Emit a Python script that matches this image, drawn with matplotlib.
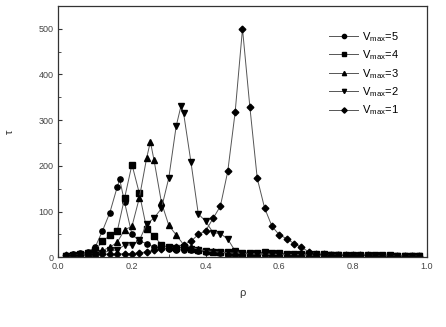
import matplotlib
matplotlib.use("Agg")
import matplotlib.pyplot as plt
from matplotlib.ticker import MultipleLocator

plt.rcParams['font.family'] = ['Liberation Sans', 'DejaVu Sans']
plt.rcParams['mathtext.default'] = 'regular'

# density grid (0.02 steps)
rho = [0.02, 0.04, 0.06, 0.08, 0.10, 0.12, 0.14, 0.16, 0.18, 0.20,
       0.22, 0.24, 0.26, 0.28, 0.30, 0.32, 0.34, 0.36, 0.38, 0.40,
       0.42, 0.44, 0.46, 0.48, 0.50, 0.52, 0.54, 0.56, 0.58, 0.60,
       0.62, 0.64, 0.66, 0.68, 0.70, 0.72, 0.74, 0.76, 0.78, 0.80,
       0.82, 0.84, 0.86, 0.88, 0.90, 0.92, 0.94, 0.96, 0.98]

# relaxation time tau for each vmax
tau_v5 = [4, 7, 9, 12, 22, 58, 98, 154, 120, 50,
          36, 30, 22, 20, 18, 17, 16, 15, 14, 12,
          11, 10, 10, 9, 9, 8, 8, 8, 7, 7,
          7, 7, 6, 6, 6, 6, 5, 5, 5, 5,
          5, 5, 4, 4, 4, 4, 4, 3, 3]
tau_v4 = [3, 5, 7, 9, 15, 35, 48, 57, 130, 203,
          140, 62, 47, 27, 22, 20, 22, 18, 17, 14,
          12, 11, 11, 12, 10, 9, 10, 11, 9, 9,
          8, 8, 8, 8, 7, 7, 6, 6, 6, 6,
          5, 5, 5, 5, 5, 4, 4, 4, 4]
tau_v3 = [2, 3, 4, 6, 10, 15, 22, 33, 60, 68,
          130, 218, 212, 120, 70, 49, 28, 22, 18, 14,
          13, 11, 10, 9, 9, 8, 8, 8, 7, 7,
          7, 6, 6, 6, 5, 5, 5, 5, 5, 4,
          4, 4, 4, 4, 3, 3, 3, 3, 3]
tau_v2 = [2, 3, 3, 4, 6, 9, 15, 16, 27, 27,
          37, 73, 86, 107, 174, 287, 316, 209, 95, 79,
          54, 52, 40, 14, 8, 8, 7, 7, 7, 6,
          6, 6, 6, 5, 5, 5, 5, 5, 4, 4,
          4, 4, 4, 4, 3, 3, 3, 3, 3]
tau_v1 = [5, 6, 6, 7, 7, 7, 7, 7, 8, 8,
          10, 12, 15, 19, 20, 23, 28, 35, 50, 58,
          85, 112, 188, 317, 500, 329, 173, 108, 68, 49,
          41, 30, 22, 12, 8, 7, 6, 6, 5, 5,
          5, 5, 4, 4, 4, 4, 4, 3, 3]

# extra points at the critical densities 1/(vmax+1)
peak_v5 = (1 / 6, 171)
peak_v3 = (0.25, 253)
peak_v2 = (1 / 3, 332)

labels = ['V$_{max}$=5', 'V$_{max}$=4', 'V$_{max}$=3', 'V$_{max}$=2', 'V$_{max}$=1']
markers = ['o', 's', '^', 'v', 'D']


def with_peak(x, y, peak):
    pts = sorted(list(zip(x, y)) + [peak])
    return [p[0] for p in pts], [p[1] for p in pts]


series = [with_peak(rho, tau_v5, peak_v5),
          (rho, tau_v4),
          with_peak(rho, tau_v3, peak_v3),
          with_peak(rho, tau_v2, peak_v2),
          (rho, tau_v1)]

fig = plt.figure(figsize=(4.46, 3.27), dpi=100)
ax = fig.add_axes([0.1307, 0.213, 0.826, 0.769])

for (x, y), lab, m in zip(series, labels, markers):
    ms = 3.4 if m == 'D' else 3.8
    ax.plot(x, y, color='#555555', linewidth=0.7, marker=m, markersize=ms,
            markerfacecolor='black', markeredgecolor='black', label=lab)

ax.set_xlim(0, 1.0)
ax.set_ylim(0, 550)
ax.xaxis.set_major_locator(MultipleLocator(0.2))
ax.xaxis.set_minor_locator(MultipleLocator(0.1))
ax.yaxis.set_major_locator(MultipleLocator(100))
ax.yaxis.set_minor_locator(MultipleLocator(50))
ax.set_xticklabels([f'{v:.1f}' for v in ax.get_xticks()])
ax.tick_params(which='both', direction='in', top=False, right=False,
               labelsize=6.5, colors='#333333', labelcolor='#444444')
ax.tick_params(which='major', length=3)
ax.tick_params(which='minor', length=2)
for s in ax.spines.values():
    s.set_color('#333333')
    s.set_linewidth(0.9)

ax.set_xlabel('ρ', fontsize=8, labelpad=12, color='#333333')
ax.set_ylabel('τ', fontsize=8, labelpad=17, color='#333333')

ax.legend(loc='upper left', bbox_to_anchor=(0.735, 0.905), frameon=False,
          fontsize=8, borderaxespad=0, borderpad=0, handlelength=2.6,
          handletextpad=0.35, labelspacing=0.42, numpoints=1,
          markerscale=0.8)

fig.savefig('out.png', dpi=100)
